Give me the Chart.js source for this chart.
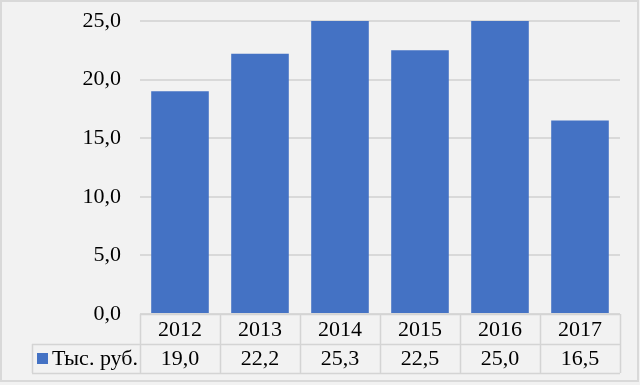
<!DOCTYPE html>
<html>
<head>
<meta charset="utf-8">
<script src="https://cdn.jsdelivr.net/npm/chart.js@4"></script>
<style>
  html, body { margin: 0; padding: 0; background: #ffffff; }
  #wrap { width: 640px; height: 385px; }
</style>
</head>
<body>
<div id="wrap"><canvas id="myChart" width="640" height="385"></canvas></div>
<script>
// chart data
var years = ["2012", "2013", "2014", "2015", "2016", "2017"];
var values = [19.0, 22.2, 25.3, 22.5, 25.0, 16.5];
var seriesName = "Тыс. руб.";
var yMax = 25;
var yStep = 5;

var fontFamily = "'Liberation Serif', 'Times New Roman', serif";
var fontSize = 22;
var barColor = "#4472c4";
var lineColor = "#d9d9d9";

function fmt(v) {
  return v.toFixed(1).replace(".", ",");
}

// background + frame
var background = {
  id: "background",
  beforeDraw: function (chart) {
    var ctx = chart.ctx;
    ctx.save();
    ctx.fillStyle = "#f2f2f2";
    ctx.fillRect(0, 0, chart.width, chart.height);
    ctx.strokeStyle = lineColor;
    ctx.lineWidth = 2;
    ctx.strokeRect(1, 1, 637, 380);
    ctx.restore();
  }
};

// data table under the plot
var dataTable = {
  id: "dataTable",
  afterDraw: function (chart) {
    var ctx = chart.ctx;
    var x = chart.scales.x;
    var area = chart.chartArea;
    var top = area.bottom;
    var mid = top + 30;
    var bottom = top + 59;
    var legendLeft = 32;
    var colW = (area.right - area.left) / years.length;

    ctx.save();
    ctx.strokeStyle = "#d4d4d4";
    ctx.lineWidth = 1.5;
    ctx.beginPath();
    ctx.moveTo(area.left, top + 0.5);
    ctx.lineTo(area.right, top + 0.5);
    ctx.moveTo(legendLeft, mid + 0.5);
    ctx.lineTo(area.right, mid + 0.5);
    ctx.moveTo(legendLeft, bottom + 0.5);
    ctx.lineTo(area.right, bottom + 0.5);
    ctx.moveTo(legendLeft + 0.5, mid);
    ctx.lineTo(legendLeft + 0.5, bottom);
    for (var i = 0; i <= years.length; i++) {
      var lx = Math.round(area.left + i * colW) + 0.5;
      ctx.moveTo(lx, top);
      ctx.lineTo(lx, bottom);
    }
    ctx.stroke();

    ctx.fillStyle = "#000000";
    ctx.font = fontSize + "px " + fontFamily;
    ctx.textAlign = "center";
    ctx.textBaseline = "middle";
    years.forEach(function (y, i) {
      var cx = x.getPixelForValue(i);
      ctx.fillText(y, cx, top + 16);
      ctx.fillText(fmt(values[i]), cx, mid + 15);
    });

    // legend key
    ctx.fillStyle = barColor;
    ctx.fillRect(37, mid + 9, 11, 11);
    ctx.fillStyle = "#000000";
    ctx.textAlign = "left";
    ctx.fillText(seriesName, 52, mid + 15);
    ctx.restore();
  }
};

var chart = new Chart(document.getElementById("myChart"), {
  type: "bar",
  data: {
    labels: years,
    datasets: [{
      label: seriesName,
      data: values,
      backgroundColor: barColor,
      borderWidth: 0,
      barPercentage: 0.72,
      categoryPercentage: 1.0
    }]
  },
  options: {
    responsive: false,
    animation: false,
    layout: {
      padding: { left: 0, right: 20, top: 21, bottom: 71 }
    },
    plugins: {
      legend: { display: false },
      tooltip: { enabled: false }
    },
    scales: {
      x: {
        display: false
      },
      y: {
        min: 0,
        max: yMax,
        afterFit: function (scale) {
          scale.width = 140;
          scale.paddingTop = 0;
          scale.paddingBottom = 0;
        },
        ticks: {
          stepSize: yStep,
          padding: 19,
          color: "#000000",
          font: { family: fontFamily, size: fontSize },
          callback: function (v) { return fmt(v); }
        },
        grid: {
          color: lineColor,
          lineWidth: 2,
          drawTicks: false
        },
        border: { display: false }
      }
    }
  },
  plugins: [background, dataTable]
});
</script>
</body>
</html>
